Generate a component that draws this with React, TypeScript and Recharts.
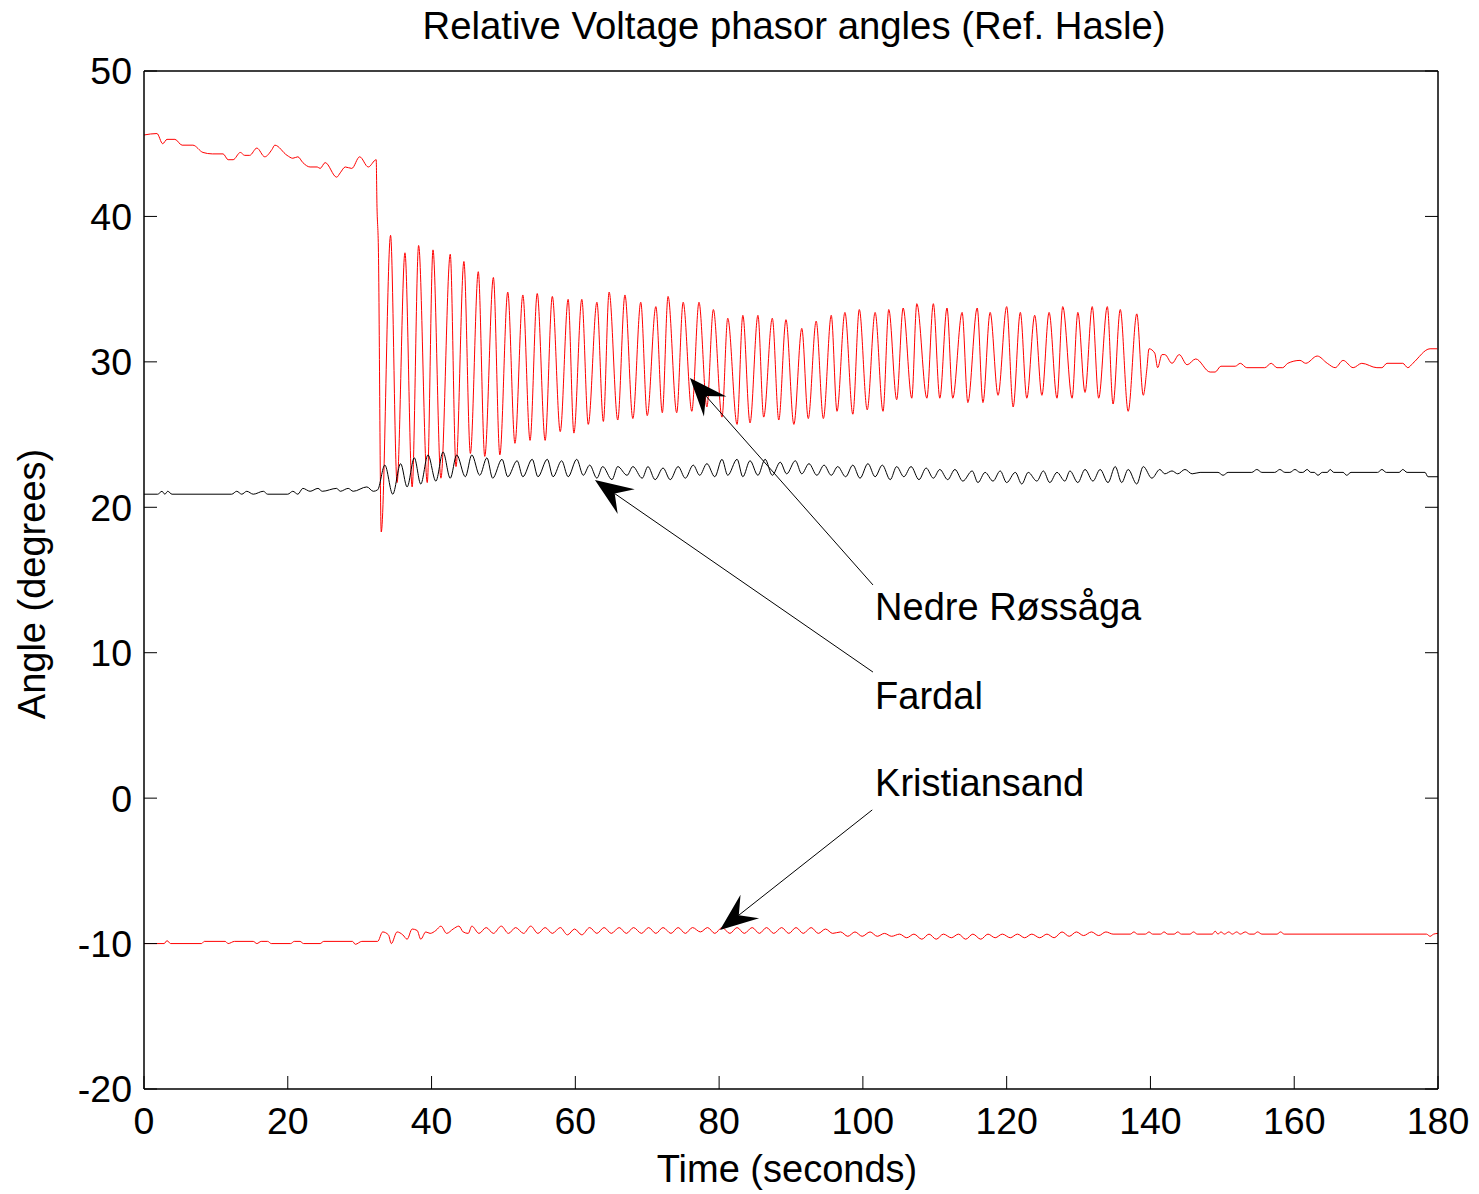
import { Line, LineChart, ReferenceDot, ReferenceLine, XAxis, YAxis } from "recharts";

const FONT = '"Liberation Sans", Arial, Helvetica, sans-serif';

const timeTicks = [0, 20, 40, 60, 80, 100, 120, 140, 160, 180];
const angleTicks = [-20, -10, 0, 10, 20, 30, 40, 50];

// [time (s), angle (deg)]
const nedreRossaga: [number, number][] = [
   [0, 45.6], [1.8, 45.7], [2.6, 45.0], [3.2, 45.3], [4.3, 45.3], [5.3, 44.9], [6.8, 44.9], [8.2, 44.4],
   [9.5, 44.3], [11.0, 44.3], [11.7, 43.9], [12.4, 43.9], [13.4, 44.4], [14.0, 44.2], [14.7, 44.2], [15.7, 44.7],
   [16.8, 44.1], [17.8, 44.6], [18.2, 44.9], [19.9, 44.2], [20.7, 44.0], [21.4, 44.1], [22.1, 43.7], [23.1, 43.4],
   [24.1, 43.4], [24.5, 43.3], [25.2, 43.7], [26.8, 42.7], [27.3, 43.0], [28.0, 43.4], [28.9, 43.3], [30.0, 44.1],
   [31.2, 43.4], [32.3, 43.9], [32.4, 40.9], [32.6, 37.9], [33.0, 18.3],
   [34.3, 38.7], [35.2, 21.7], [36.3, 37.5], [37.3, 21.4], [38.2, 38.0], [39.4, 21.7], [40.2, 37.7], [41.3, 22.0],
   [42.6, 37.4], [43.4, 22.8], [44.5, 36.9], [45.4, 23.7], [46.5, 36.2], [47.4, 23.5], [48.6, 35.8], [49.5, 23.6],
   [50.6, 34.8], [51.6, 24.4], [52.7, 34.6], [53.7, 24.6], [54.7, 34.7], [55.8, 24.6], [56.8, 34.5], [57.9, 25.2],
   [59.0, 34.3], [59.8, 25.1], [60.9, 34.3], [61.8, 25.7], [63.0, 34.1], [63.9, 25.9], [64.7, 34.8], [65.9, 26.0],
   [66.9, 34.6], [68.0, 26.1], [69.1, 34.1], [70.0, 26.3], [71.2, 33.8], [72.1, 26.5], [72.9, 34.5], [74.1, 26.5],
   [75.0, 34.1], [76.2, 26.6], [77.2, 34.1], [78.3, 26.9], [79.2, 33.6], [80.4, 26.2], [81.2, 33.0], [82.5, 25.7],
   [83.3, 33.2], [84.3, 25.8], [85.4, 33.2], [86.2, 26.2], [87.4, 33.0], [88.3, 26.0], [89.3, 32.9], [90.4, 25.7],
   [91.5, 32.3], [92.4, 26.1], [93.5, 32.8], [94.5, 26.1], [95.6, 33.2], [96.4, 26.6], [97.5, 33.4], [98.6, 26.4],
   [99.5, 33.6], [100.6, 26.7], [101.7, 33.4], [102.8, 26.6], [103.6, 33.6], [104.7, 27.4], [105.6, 33.7], [106.8, 27.5],
   [107.5, 34.0], [108.9, 27.5], [109.8, 34.0], [110.7, 27.5], [111.7, 33.7], [112.5, 27.5], [113.8, 33.4], [114.6, 27.2],
   [115.9, 33.7], [116.7, 27.2], [117.7, 33.4], [118.8, 27.7], [120.0, 33.8], [120.9, 26.9], [121.9, 33.4], [122.8, 27.5],
   [123.9, 33.2], [124.9, 27.7], [125.9, 33.4], [127.0, 27.5], [127.8, 33.8], [129.1, 27.5], [129.9, 33.4], [130.9, 27.9],
   [131.9, 33.8], [132.8, 27.5], [134.0, 33.8], [134.8, 27.1], [135.8, 33.6], [136.9, 26.6], [138.1, 33.3], [139.0, 27.7],
   [139.5, 29.5], [139.8, 30.9], [140.6, 30.6], [141.0, 29.6], [141.6, 30.5], [142.0, 30.5], [143.0, 29.9], [144.0, 30.5],
   [145.1, 29.8], [146.3, 30.2], [148.3, 29.3], [149.0, 29.3], [149.8, 29.7], [151.8, 29.7], [152.5, 29.9], [153.4, 29.6],
   [155.9, 29.6], [156.8, 29.9], [157.6, 29.6], [158.4, 29.6], [159.1, 29.9], [160.8, 30.1], [161.6, 29.9], [163.2, 30.4],
   [164.6, 29.9], [165.7, 29.6], [166.8, 30.1], [168.2, 29.6], [169.4, 29.9], [171.5, 29.6], [172.2, 29.6], [172.9, 29.9],
   [175.1, 29.9], [175.8, 29.6], [176.5, 29.9], [178.9, 30.9], [179.9, 30.9],
];

const fardal: [number, number][] = [
   [0, 20.9], [1.9, 20.9], [2.5, 21.1], [2.9, 20.9], [3.3, 21.1], [3.9, 20.9], [12.2, 20.9], [12.9, 21.1],
   [13.6, 20.9], [14.3, 21.1], [15.2, 20.9], [16.6, 21.1], [17.2, 20.9], [20.0, 20.9], [20.7, 21.1], [21.4, 20.9],
   [22.1, 21.3], [23.1, 21.1], [24.2, 21.3], [24.8, 21.1], [26.8, 21.3], [27.3, 21.1], [28.4, 21.3], [29.1, 21.1],
   [31.0, 21.4], [31.9, 21.1], [32.5, 21.2],
   [33.5, 22.9], [34.6, 20.9], [35.7, 23.0], [36.6, 21.4], [37.6, 23.4], [38.5, 21.6], [39.5, 23.6], [40.6, 21.8],
   [41.6, 23.8], [42.6, 22.0], [43.5, 23.6], [44.7, 22.1], [45.6, 23.6], [46.7, 22.2], [47.7, 23.4], [48.5, 22.0],
   [49.8, 23.3], [50.6, 22.1], [51.9, 23.2], [52.7, 22.1], [54.0, 23.3], [54.8, 22.1], [56.1, 23.3], [56.9, 22.1],
   [58.1, 23.2], [59.0, 22.1], [60.2, 23.3], [61.1, 22.2], [62.0, 22.9], [63.0, 22.0], [63.8, 22.8], [65.1, 21.9],
   [65.9, 22.8], [67.2, 22.2], [68.0, 22.8], [69.3, 22.0], [70.1, 22.8], [71.1, 21.9], [72.2, 22.7], [73.2, 21.9],
   [74.3, 22.8], [75.3, 22.0], [76.4, 22.9], [77.3, 22.2], [78.3, 23.0], [79.4, 22.1], [80.4, 23.3], [81.2, 22.2],
   [82.5, 23.3], [83.3, 22.1], [84.3, 23.2], [85.4, 22.2], [86.4, 23.3], [87.4, 22.2], [88.5, 23.1], [89.4, 22.3],
   [90.6, 23.2], [91.5, 22.3], [92.5, 23.0], [93.6, 22.2], [94.6, 22.9], [95.6, 22.2], [96.5, 22.8], [97.6, 22.1],
   [98.6, 22.9], [99.6, 22.0], [100.7, 23.0], [101.7, 22.1], [102.7, 22.9], [103.8, 21.9], [104.7, 22.8], [105.7, 22.1],
   [106.7, 22.8], [107.8, 21.9], [108.8, 22.7], [109.8, 22.0], [110.7, 22.6], [111.8, 21.9], [112.8, 22.6], [113.9, 21.8],
   [115.2, 22.5], [116.0, 21.7], [117.0, 22.4], [118.1, 21.8], [119.1, 22.5], [120.0, 21.7], [121.2, 22.4], [122.1, 21.6],
   [123.0, 22.4], [124.2, 21.8], [125.1, 22.5], [126.0, 21.7], [127.0, 22.4], [128.1, 21.8], [128.8, 22.5], [129.9, 21.7],
   [130.9, 22.6], [132.0, 21.8], [133.0, 22.6], [134.1, 21.7], [135.1, 22.8], [136.0, 21.7], [136.9, 22.6], [138.1, 21.6],
   [139.0, 22.8], [140.2, 22.0], [141.3, 22.6], [142.0, 22.3], [143.0, 22.5], [143.8, 22.3], [144.8, 22.6], [145.8, 22.3],
   [146.9, 22.4], [149.4, 22.4], [150.1, 22.2], [150.8, 22.4], [154.1, 22.4], [154.8, 22.6], [155.5, 22.4], [157.3, 22.4],
   [158.0, 22.6], [158.7, 22.4], [159.4, 22.4], [160.1, 22.6], [160.8, 22.4], [161.2, 22.4], [161.8, 22.6], [162.3, 22.4],
   [162.8, 22.4], [163.3, 22.2], [163.9, 22.4], [164.6, 22.4], [165.0, 22.6], [165.5, 22.4], [166.8, 22.4], [167.3, 22.2],
   [167.9, 22.4], [171.6, 22.4], [172.2, 22.6], [172.8, 22.4], [174.6, 22.4], [175.1, 22.6], [175.7, 22.4], [178.2, 22.4],
   [178.6, 22.1], [180.0, 22.1],
];

const kristiansand: [number, number][] = [
   [0, -10.0], [2.8, -10.0], [3.2, -9.8], [3.7, -10.0], [8.0, -10.0], [8.4, -9.85], [11.3, -9.85], [11.7, -10.0],
   [12.6, -9.85], [15.2, -9.85], [15.7, -10.0], [16.3, -9.85], [17.2, -9.85], [17.7, -10.0], [20.4, -10.0], [20.9, -9.85],
   [21.7, -9.85], [22.2, -10.0], [24.5, -10.0], [25.0, -9.85], [29.0, -9.85], [29.4, -10.05], [30.3, -9.85], [32.5, -9.85],
   [33.2, -9.2], [34.0, -9.4], [34.4, -10.0], [35.2, -9.2], [36.0, -9.4], [36.6, -9.7], [37.3, -9.0], [38.0, -9.1],
   [38.5, -9.7], [39.2, -9.2], [39.8, -9.3], [40.6, -9.1], [41.3, -8.8], [42.1, -9.3], [43.0, -9.0], [43.8, -8.8],
   [44.4, -9.2], [45.1, -9.3], [45.6, -8.8], [46.6, -9.3], [47.6, -8.9], [48.6, -9.3], [49.7, -8.8], [50.7, -9.3],
   [51.7, -8.9], [52.8, -9.3], [53.8, -8.8], [54.8, -9.3], [55.8, -8.9], [56.8, -9.3], [57.9, -8.9], [58.9, -9.4],
   [59.9, -9.0], [60.9, -9.4], [62.0, -8.9], [63.0, -9.3], [64.0, -8.9], [65.0, -9.3], [66.1, -8.9], [67.1, -9.3],
   [68.1, -8.9], [69.2, -9.3], [70.2, -8.9], [71.2, -9.3], [72.2, -8.9], [73.3, -9.3], [74.3, -8.9], [75.3, -9.3],
   [76.3, -8.9], [77.4, -9.2], [78.4, -8.9], [79.4, -9.3], [80.4, -8.9], [81.5, -9.3], [82.5, -8.9], [83.5, -9.3],
   [84.6, -8.9], [85.6, -9.3], [86.6, -8.9], [87.6, -9.3], [88.7, -8.9], [89.7, -9.3], [90.7, -8.9], [91.7, -9.3],
   [92.8, -8.9], [93.8, -9.3], [94.8, -9.0], [95.8, -9.3], [96.9, -9.2], [97.9, -9.5], [98.9, -9.2], [99.9, -9.5],
   [101.0, -9.2], [102.0, -9.5], [103.0, -9.3], [104.0, -9.5], [105.1, -9.35], [106.1, -9.6], [107.1, -9.35], [108.2, -9.7],
   [109.2, -9.35], [110.2, -9.7], [111.2, -9.35], [112.3, -9.6], [113.3, -9.35], [114.3, -9.7], [115.3, -9.35], [116.4, -9.7],
   [117.4, -9.35], [118.4, -9.6], [119.4, -9.35], [120.5, -9.6], [121.5, -9.35], [122.5, -9.6], [123.5, -9.35], [124.6, -9.6],
   [125.6, -9.35], [126.6, -9.6], [127.7, -9.2], [128.7, -9.5], [129.7, -9.2], [130.7, -9.45], [131.8, -9.2], [132.8, -9.45],
   [133.8, -9.2], [134.8, -9.35], [137.2, -9.35], [137.7, -9.2], [138.2, -9.35], [139.3, -9.35], [139.8, -9.2], [140.3, -9.35],
   [141.4, -9.35], [141.9, -9.2], [142.4, -9.35], [143.3, -9.35], [143.8, -9.2], [144.3, -9.35], [145.5, -9.35], [146.0, -9.2],
   [146.5, -9.35], [148.6, -9.35], [149.0, -9.15], [149.4, -9.35], [149.8, -9.2], [150.3, -9.35], [150.9, -9.2], [151.4, -9.35],
   [152.0, -9.2], [152.5, -9.35], [153.2, -9.2], [153.8, -9.35], [154.4, -9.35], [154.9, -9.2], [155.5, -9.35], [157.6, -9.35],
   [158.1, -9.2], [158.6, -9.35], [178.4, -9.35], [178.9, -9.5], [179.4, -9.35], [180.0, -9.3],
];

// annotations: label anchor, arrow start, arrow tip (time, angle)
const noteNames = ["Nedre Røssåga", "Fardal", "Kristiansand"];
const noteLabel: [number, number][] = [[101.7, 12.25], [101.7, 6.13], [101.7, 0.15]];
const noteFrom: [number, number][] = [[101.4, 14.66], [101.4, 8.67], [101.3, -0.81]];
const noteTo: [number, number][] = [[75.95, 28.89], [62.73, 21.88], [80.12, -9.07]];

const toRows = (pairs: [number, number][]) => pairs.map(([t, angle]) => ({ t, angle }));

const TICK_LEN = 13;
const TICK_FONT = 37.5;

function BottomTick({ x, y, payload }: any) {
   return (
      <g>
         <line x1={x} y1={y} x2={x} y2={y - TICK_LEN} stroke="#000" strokeWidth={1} />
         <text x={x} y={y + 45} textAnchor="middle" fontSize={TICK_FONT} fontFamily={FONT} fill="#000">
            {payload.value}
         </text>
      </g>
   );
}

function LeftTick({ x, y, payload }: any) {
   return (
      <g>
         <line x1={x} y1={y} x2={x + TICK_LEN} y2={y} stroke="#000" strokeWidth={1} />
         <text x={x - 12} y={y + 13.4} textAnchor="end" fontSize={TICK_FONT} fontFamily={FONT} fill="#000">
            {payload.value}
         </text>
      </g>
   );
}

function TopTick({ x, y }: any) {
   return <line x1={x} y1={y} x2={x} y2={y + TICK_LEN} stroke="#000" strokeWidth={1} />;
}

function RightTick({ x, y }: any) {
   return <line x1={x} y1={y} x2={x - TICK_LEN} y2={y} stroke="#000" strokeWidth={1} />;
}

function ChartTitle({ viewBox }: any) {
   const { x, y, width, height } = viewBox;
   return (
      <text x={x + width / 2 + 3} y={y + height - 32} textAnchor="middle" fontSize={38.3} fontFamily={FONT} fill="#000">
         Relative Voltage phasor angles (Ref. Hasle)
      </text>
   );
}

function TimeTitle({ viewBox }: any) {
   const { x, y, width } = viewBox;
   return (
      <text x={x + width / 2 - 4} y={y + 93} textAnchor="middle" fontSize={38} fontFamily={FONT} fill="#000">
         Time (seconds)
      </text>
   );
}

function AngleTitle({ viewBox }: any) {
   const { x, y, width, height } = viewBox;
   const cx = x + width - 99;
   const cy = y + height / 2 + 4;
   return (
      <text x={cx} y={cy} transform={`rotate(-90 ${cx} ${cy})`} textAnchor="middle" fontSize={38} fontFamily={FONT} fill="#000">
         Angle (degrees)
      </text>
   );
}

function Arrow({ x1, y1, x2, y2 }: any) {
   const dx = x2 - x1;
   const dy = y2 - y1;
   const len = Math.hypot(dx, dy) || 1;
   const ux = dx / len;
   const uy = dy / len;
   const nx = -uy;
   const ny = ux;
   const headLen = 38;
   const headHalf = 15;
   const notch = 24;
   const bx = x2 - ux * headLen;
   const by = y2 - uy * headLen;
   const pts = [
      [x2, y2],
      [bx + nx * headHalf, by + ny * headHalf],
      [x2 - ux * notch, y2 - uy * notch],
      [bx - nx * headHalf, by - ny * headHalf],
   ];
   return (
      <g>
         <line x1={x1} y1={y1} x2={x2 - ux * notch} y2={y2 - uy * notch} stroke="#000" strokeWidth={1} />
         <polygon points={pts.map((p) => p.join(",")).join(" ")} fill="#000" />
      </g>
   );
}

const noteText = (name: string) => (props: any) => (
   <text x={props.cx} y={props.cy} fontSize={38} fontFamily={FONT} fill="#000">
      {name}
   </text>
);

export default function App() {
   return (
      <div style={{ width: 1471, height: 1186, background: "#fff" }}>
         <LineChart width={1471} height={1186} margin={{ top: 0, right: 0, bottom: 0, left: 0 }}>
            <XAxis
               xAxisId={0}
               dataKey="t"
               type="number"
               domain={[0, 180]}
               ticks={timeTicks}
               interval={0}
               allowDataOverflow
               height={105}
               tickLine={false}
               tickSize={0}
               tickMargin={0}
               tick={BottomTick}
               axisLine={{ stroke: "#000", strokeWidth: 1.5 }}
               label={<TimeTitle />}
            />
            <XAxis
               xAxisId="top"
               orientation="top"
               type="number"
               domain={[0, 180]}
               ticks={timeTicks}
               interval={0}
               allowDataOverflow
               height={63}
               tickLine={false}
               tickSize={0}
               tickMargin={0}
               tick={TopTick}
               axisLine={{ stroke: "#000", strokeWidth: 1.5 }}
               label={<ChartTitle />}
            />
            <YAxis
               yAxisId={0}
               type="number"
               domain={[-20, 50]}
               ticks={angleTicks}
               interval={0}
               allowDataOverflow
               width={136}
               tickLine={false}
               tickSize={0}
               tickMargin={0}
               tick={LeftTick}
               axisLine={{ stroke: "#000", strokeWidth: 1.5 }}
               label={<AngleTitle />}
            />
            <YAxis
               yAxisId="right"
               orientation="right"
               type="number"
               domain={[-20, 50]}
               ticks={angleTicks}
               interval={0}
               allowDataOverflow
               width={41}
               tickLine={false}
               tickSize={0}
               tickMargin={0}
               tick={RightTick}
               axisLine={{ stroke: "#000", strokeWidth: 1.5 }}
            />
            <Line
               data={toRows(nedreRossaga)}
               dataKey="angle"
               type="monotone"
               stroke="#ff0000"
               strokeWidth={1}
               dot={false}
               activeDot={false}
               isAnimationActive={false}
            />
            <Line
               data={toRows(kristiansand)}
               dataKey="angle"
               type="monotone"
               stroke="#ff0000"
               strokeWidth={1}
               dot={false}
               activeDot={false}
               isAnimationActive={false}
            />
            <Line
               data={toRows(fardal)}
               dataKey="angle"
               type="monotone"
               stroke="#000000"
               strokeWidth={1}
               dot={false}
               activeDot={false}
               isAnimationActive={false}
            />
            {noteNames.map((name, i) => (
               <ReferenceLine
                  key={`arrow-${name}`}
                  segment={[
                     { x: noteFrom[i][0], y: noteFrom[i][1] },
                     { x: noteTo[i][0], y: noteTo[i][1] },
                  ]}
                  shape={Arrow}
               />
            ))}
            {noteNames.map((name, i) => (
               <ReferenceDot
                  key={`label-${name}`}
                  x={noteLabel[i][0]}
                  y={noteLabel[i][1]}
                  r={0}
                  shape={noteText(name)}
               />
            ))}
         </LineChart>
      </div>
   );
}
